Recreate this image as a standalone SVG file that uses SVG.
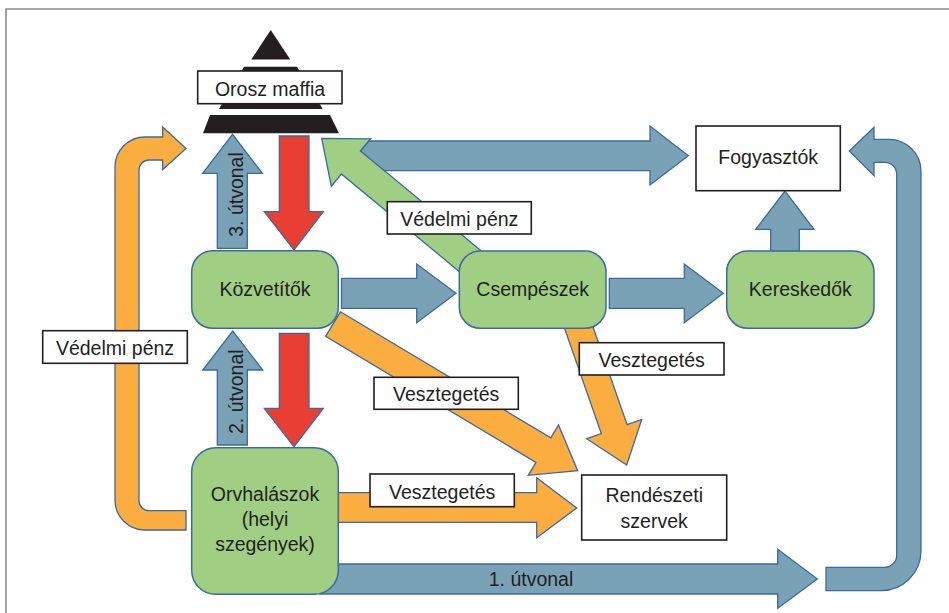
<svg xmlns="http://www.w3.org/2000/svg" width="949" height="613" viewBox="0 0 949 613">
<style>
.t{font-family:"Liberation Sans",Arial,sans-serif;font-size:19.5px;fill:#231f20;text-anchor:middle}
.ar{stroke:#3b6aa0;stroke-width:1.3;stroke-linejoin:miter}
.bl{fill:#79a2b6}
.or{fill:#fbad3f}
.gr{fill:#a0cf84}
.rd{fill:#e93f33}
.lb{fill:#ffffff;stroke:#231f20;stroke-width:1.6}
.nd{fill:#a0cf84;stroke:#3b6aa0;stroke-width:1.5}
.py{fill:#231f20}
</style>
<rect width="949" height="613" fill="#ffffff"/>
<path d="M6,613 L6,9 L949,9" fill="none" stroke="#8a8a8a" stroke-width="1.6"/>

<g id="connectors">
  <path class="ar or" d="M186,530 L145,530 A30,30 0 0 1 115,500 L115,167 A30,30 0 0 1 145,137 L162.7,137 L162.7,127 L186,148.5 L162.7,169.5 L162.7,160 L149,160 A10,10 0 0 0 139,170 L139,500.7 A10,10 0 0 0 149,510.7 L186,510.7 Z"/>
  <path class="ar gr" d="M321.7,138.3 L370.7,138.8 L360.6,151 L514.6,278.5 L495.4,301.5 L341.4,174 L331.3,186.2 Z"/>
  <path class="ar bl" d="M368.9,141 L650,141 L650,126 L688.3,155.7 L650,185 L650,170.7 L384.4,170.7 L360.6,151 Z"/>
  <path class="ar bl" d="M826,567.3 L884.7,567.3 A12,12 0 0 0 896.7,555.3 L896.7,174.3 A12,12 0 0 0 884.7,162.3 L874,162.3 L874,175.7 L849.3,151 L874,127.3 L874,139.3 L889,139.3 A32,32 0 0 1 921,171.3 L921,550.7 A40,40 0 0 1 881,590.7 L826,590.7 Z"/>
  <path class="ar bl" d="M320,564 L777.7,564 L777.7,549.3 L817.3,579 L777.7,608.3 L777.7,594 L320,594 Z"/>
  <path class="ar or" d="M340.4,311.8 L550.8,437.8 L558.5,424.9 L577.7,470.7 L528.3,475.3 L536,462.4 L325.6,336.4 Z"/>
  <path class="ar or" d="M582,295.5 L627.1,424.6 L641.7,419.5 L626.7,465 L586.7,438.7 L601.3,433.6 L556.2,304.5 Z"/>
  <path class="ar or" d="M320,492.7 L536.7,492.7 L536.7,477.7 L576.7,508 L536.7,537.7 L536.7,522.3 L320,522.3 Z"/>
  <path class="ar bl" d="M341.5,278.3 L416.7,278.3 L416.7,264 L456,293.3 L416.7,322.7 L416.7,308.3 L341.5,308.3 Z"/>
  <path class="ar bl" d="M609.3,278.3 L684.3,278.3 L684.3,264 L723.3,293.3 L684.3,322.7 L684.3,308.3 L609.3,308.3 Z"/>
  <path class="ar bl" d="M770.7,260 L770.7,229.3 L755.7,229.3 L785,191 L814,229.3 L799.3,229.3 L799.3,260 Z"/>
  <path class="ar bl" d="M217.3,248.3 L217.3,173.3 L202.7,173.3 L232.5,134.3 L262.3,173.3 L247.3,173.3 L247.3,248.3 Z"/>
  <path class="ar rd" d="M279.3,136 L309,136 L309,211.7 L323.3,211.7 L294,250 L264.3,211.7 L279.3,211.7 Z"/>
  <path class="ar bl" d="M217.3,445 L217.3,370 L202.7,370 L232.7,331 L262.7,370 L247.3,370 L247.3,445 Z"/>
  <path class="ar rd" d="M279.3,333.3 L309,333.3 L309,408.3 L323.3,408.3 L294,446.7 L264.3,408.3 L279.3,408.3 Z"/>

  <text class="t" transform="translate(242.5,194.5) rotate(-90)">3. útvonal</text>
  <text class="t" transform="translate(242.5,391.7) rotate(-90)">2. útvonal</text>
  <text class="t" x="531" y="585.5">1. útvonal</text>

  <g id="label-vedelmi-left">
    <rect class="lb" x="42.7" y="330.7" width="144.6" height="32.6"/>
    <text class="t" x="115" y="354.5">Védelmi pénz</text>
  </g>
  <g id="label-vedelmi-top">
    <rect class="lb" x="387.3" y="201.7" width="144" height="32.3"/>
    <text class="t" x="459.3" y="225.7">Védelmi pénz</text>
  </g>
  <g id="label-veszt-mid">
    <rect class="lb" x="374" y="377.3" width="144.3" height="32"/>
    <text class="t" x="446.2" y="400.5">Vesztegetés</text>
  </g>
  <g id="label-veszt-right">
    <rect class="lb" x="579.3" y="342.7" width="144.7" height="32.3"/>
    <text class="t" x="651.7" y="366.5">Vesztegetés</text>
  </g>
  <g id="label-veszt-bottom">
    <rect class="lb" x="370" y="474" width="144.3" height="32.7"/>
    <text class="t" x="442.2" y="498.7">Vesztegetés</text>
  </g>
</g>

<g id="orosz-maffia">
  <polygon class="py" points="270.7,30 251.3,59.5 290.3,59.5"/>
  <polygon class="py" points="244,66.7 297,66.7 322.7,109 219,109"/>
  <polygon class="py" points="210,115 330,115 339,133.3 203,133.3"/>
  <rect class="lb" x="197.7" y="71" width="144.3" height="32.7"/>
  <text class="t" x="270" y="95.7">Orosz maffia</text>
</g>

<g id="fogyasztok">
  <rect class="lb" x="696" y="126" width="144.3" height="64.7"/>
  <text class="t" x="768.2" y="163.7">Fogyasztók</text>
</g>

<g id="kozvetitok">
  <rect class="nd" x="191.7" y="250.7" width="146.6" height="77.6" rx="21"/>
  <text class="t" x="265" y="295.7">Közvetítők</text>
</g>

<g id="csempeszek">
  <rect class="nd" x="459.3" y="251" width="146.7" height="77.3" rx="21"/>
  <text class="t" x="532.7" y="295.7">Csempészek</text>
</g>

<g id="kereskedok">
  <rect class="nd" x="726.7" y="251" width="147.3" height="77.3" rx="21"/>
  <text class="t" x="800.3" y="295.7">Kereskedők</text>
</g>

<g id="orvhalaszok">
  <rect class="nd" x="191.7" y="447.7" width="146.6" height="146.6" rx="24"/>
  <text class="t" x="265" y="501.2">Orvhalászok</text>
  <text class="t" x="265" y="526.2">(helyi</text>
  <text class="t" x="265" y="551.2">szegények)</text>
</g>

<g id="rendeszeti">
  <rect class="lb" x="581.7" y="475" width="145" height="65"/>
  <text class="t" x="654.2" y="502">Rendészeti</text>
  <text class="t" x="654.2" y="527.5">szervek</text>
</g>
</svg>
